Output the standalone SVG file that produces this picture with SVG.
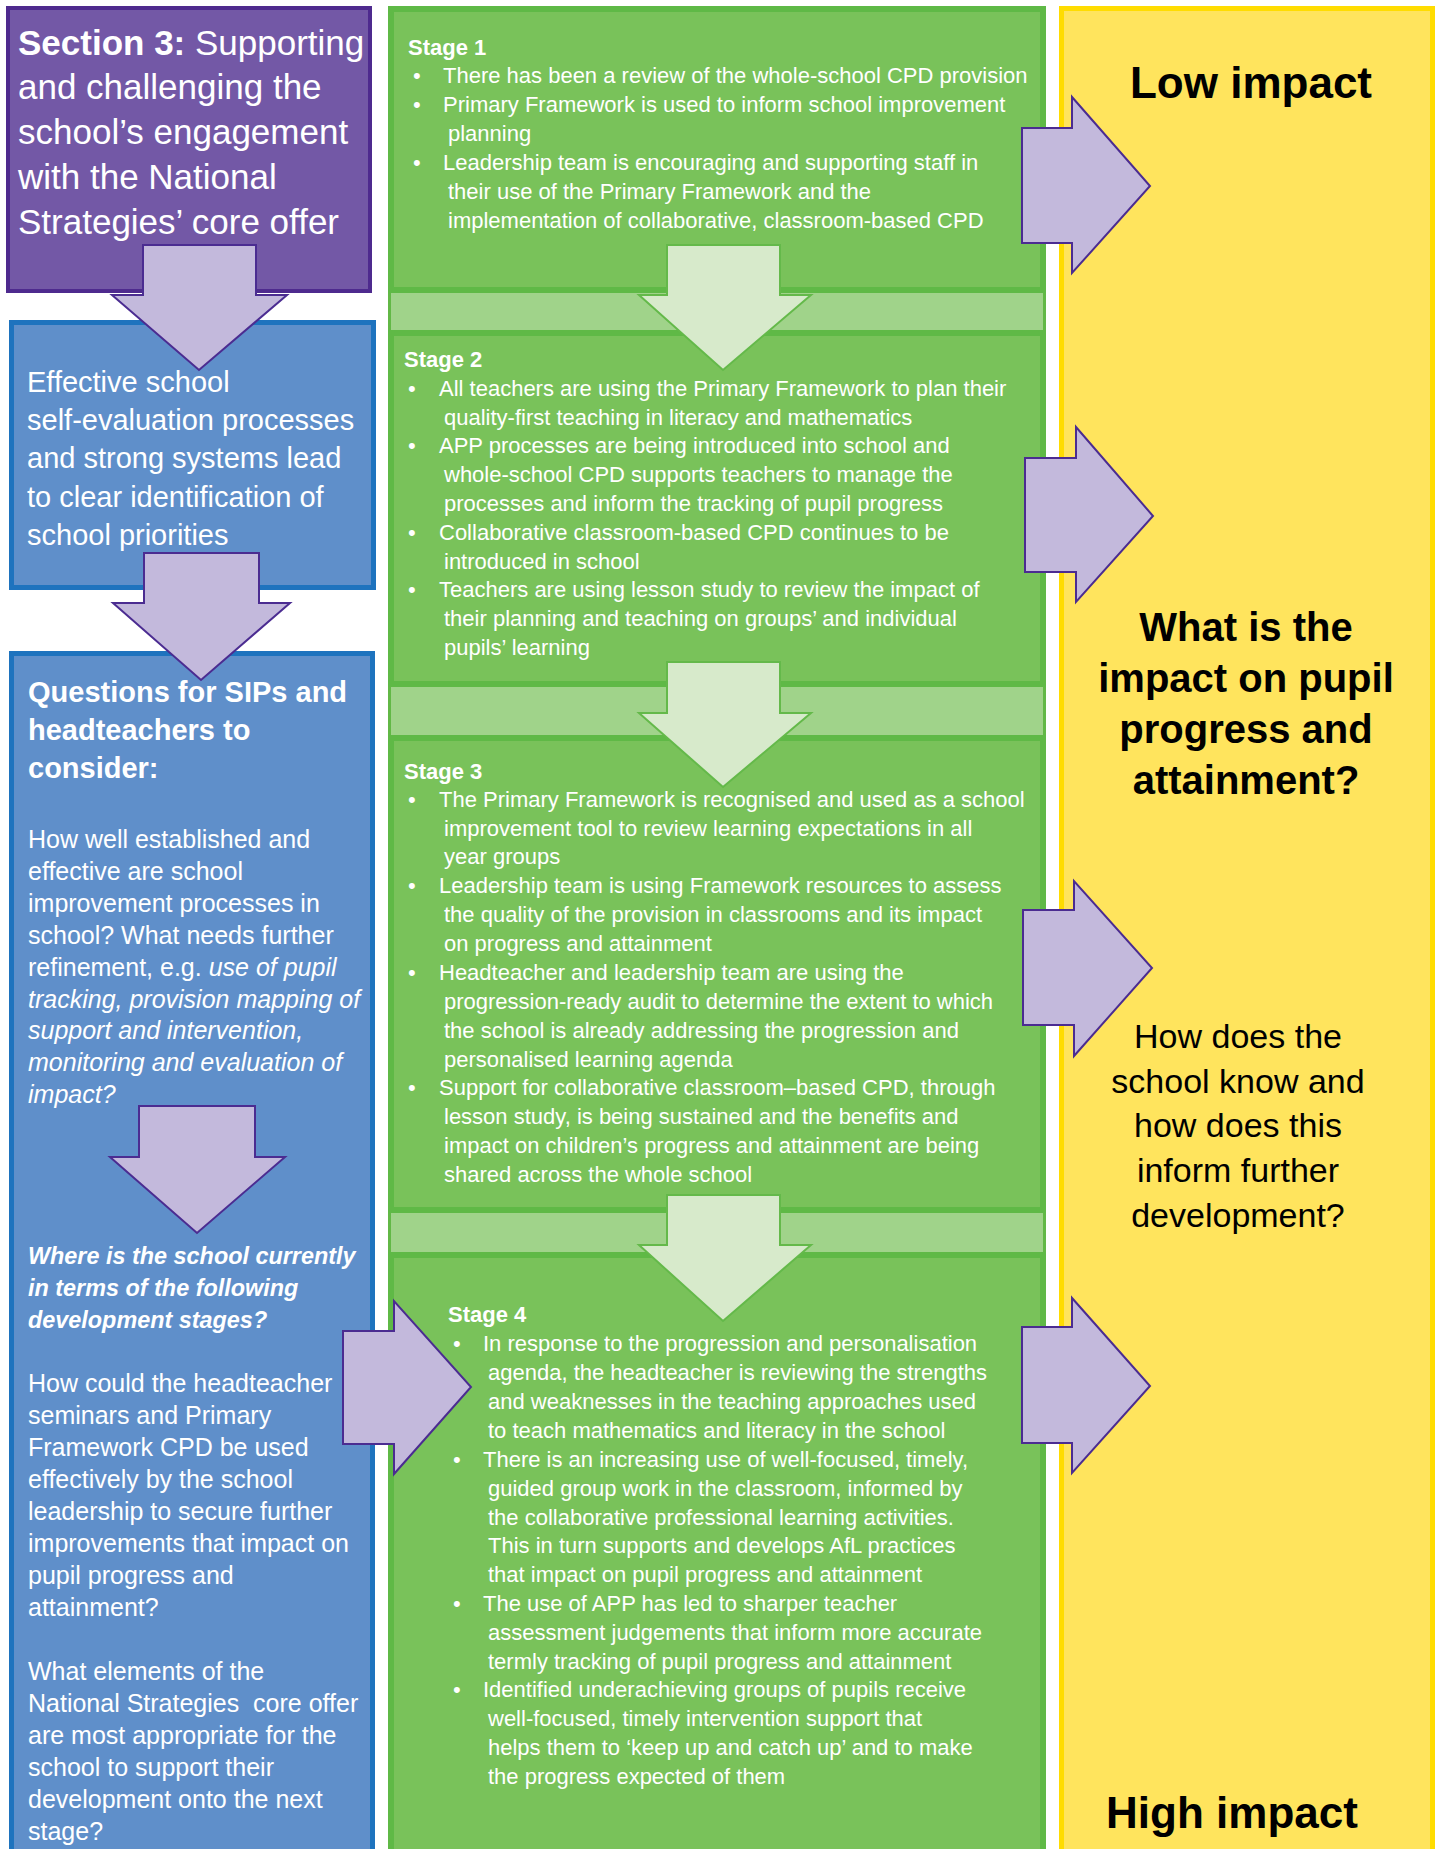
<svg xmlns="http://www.w3.org/2000/svg" width="1438" height="1849" viewBox="0 0 1438 1849">
  <style>
    text { font-family: "Liberation Sans", Arial, sans-serif; }
    .w { fill: #ffffff; }
    .k { fill: #000000; }
    .b { font-weight: bold; }
    .i { font-style: italic; }
    .h1 { font-size: 35px; }
    .h2 { font-size: 29px; }
    .q { font-size: 25px; }
    .qi { font-size: 23.4px; font-weight: bold; font-style: italic; }
    .st { font-size: 22px; }
    .stage { fill: #79c25a; stroke: #5fb946; stroke-width: 6; }
    .purple-arrow { fill: #c3b9dc; stroke: #4b2c91; stroke-width: 2; stroke-linejoin: miter; }
    .green-arrow { fill: #d7eacb; stroke: #64b94a; stroke-width: 2; }
    .big { font-size: 44px; font-weight: bold; text-anchor: middle; }
    .mid { font-size: 40px; font-weight: bold; text-anchor: middle; }
    .ask { font-size: 34px; text-anchor: middle; }
  </style>
  <rect width="1438" height="1849" fill="#ffffff"/>

  <!-- left column: section heading -->
  <g id="section-box">
    <rect x="8" y="8" width="362" height="283" fill="#7358a6" stroke="#4e2a8e" stroke-width="4"/>
    <text class="w h1" x="18" y="55"><tspan class="b">Section 3:</tspan> Supporting</text>
    <text class="w h1" x="18" y="99">and challenging the</text>
    <text class="w h1" x="18" y="144">school’s engagement</text>
    <text class="w h1" x="18" y="189">with the National</text>
    <text class="w h1" x="18" y="234">Strategies’ core offer</text>
  </g>

  <g id="self-evaluation">
    <rect x="11.5" y="322.5" width="362" height="265" fill="#5f8fca" stroke="#1e73be" stroke-width="5"/>
    <text class="w h2" x="27" y="392">Effective school</text>
    <text class="w h2" x="27" y="430">self-evaluation processes</text>
    <text class="w h2" x="27" y="468">and strong systems lead</text>
    <text class="w h2" x="27" y="507">to clear identification of</text>
    <text class="w h2" x="27" y="545">school priorities</text>
  </g>

  <g id="questions">
    <rect x="11.5" y="653.5" width="361" height="1215" fill="#5f8fca" stroke="#1e73be" stroke-width="5"/>
    <text class="w h2 b" x="28" y="702">Questions for SIPs and</text>
    <text class="w h2 b" x="28" y="740">headteachers to</text>
    <text class="w h2 b" x="28" y="778">consider:</text>
    <text class="w q" x="28" y="848">How well established and</text>
    <text class="w q" x="28" y="880">effective are school</text>
    <text class="w q" x="28" y="912">improvement processes in</text>
    <text class="w q" x="28" y="944">school? What needs further</text>
    <text class="w q" x="28" y="976">refinement, e.g. <tspan class="i">use of pupil</tspan></text>
    <text class="w q i" x="28" y="1008">tracking, provision mapping of</text>
    <text class="w q i" x="28" y="1039">support and intervention,</text>
    <text class="w q i" x="28" y="1071">monitoring and evaluation of</text>
    <text class="w q i" x="28" y="1103">impact?</text>
    <text class="w qi" x="28" y="1264">Where is the school currently</text>
    <text class="w qi" x="28" y="1296">in terms of the following</text>
    <text class="w qi" x="28" y="1328">development stages?</text>
    <text class="w q" x="28" y="1392">How could the headteacher</text>
    <text class="w q" x="28" y="1424">seminars and Primary</text>
    <text class="w q" x="28" y="1456">Framework CPD be used</text>
    <text class="w q" x="28" y="1488">effectively by the school</text>
    <text class="w q" x="28" y="1520">leadership to secure further</text>
    <text class="w q" x="28" y="1552">improvements that impact on</text>
    <text class="w q" x="28" y="1584">pupil progress and</text>
    <text class="w q" x="28" y="1616">attainment?</text>
    <text class="w q" x="28" y="1680">What elements of the</text>
    <text class="w q" x="28" y="1712">National Strategies&#160; core offer</text>
    <text class="w q" x="28" y="1744">are most appropriate for the</text>
    <text class="w q" x="28" y="1776">school to support their</text>
    <text class="w q" x="28" y="1808">development onto the next</text>
    <text class="w q" x="28" y="1840">stage?</text>
  </g>

  <!-- middle column: development stages -->
  <rect x="389.5" y="7.5" width="655" height="1860" fill="#a0d38a" stroke="#62b846" stroke-width="3"/>

  <g id="stage-1">
    <rect class="stage" x="391" y="9" width="652" height="281"/>
    <text class="w st b" x="408" y="55">Stage 1</text>
    <g class="w st">
      <text x="413" y="83">•</text><text x="443" y="83">There has been a review of the whole-school CPD provision</text>
      <text x="413" y="112">•</text><text x="443" y="112">Primary Framework is used to inform school improvement</text>
      <text x="448" y="141">planning</text>
      <text x="413" y="170">•</text><text x="443" y="170">Leadership team is encouraging and supporting staff in</text>
      <text x="448" y="199">their use of the Primary Framework and the</text>
      <text x="448" y="228">implementation of collaborative, classroom-based CPD</text>
    </g>
  </g>

  <g id="stage-2">
    <rect class="stage" x="391" y="333" width="652" height="351"/>
    <text class="w st b" x="404" y="367">Stage 2</text>
    <g class="w st">
      <text x="408" y="396">•</text><text x="439" y="396">All teachers are using the Primary Framework to plan their</text>
      <text x="444" y="425">quality-first teaching in literacy and mathematics</text>
      <text x="408" y="453">•</text><text x="439" y="453">APP processes are being introduced into school and</text>
      <text x="444" y="482">whole-school CPD supports teachers to manage the</text>
      <text x="444" y="511">processes and inform the tracking of pupil progress</text>
      <text x="408" y="540">•</text><text x="439" y="540">Collaborative classroom-based CPD continues to be</text>
      <text x="444" y="569">introduced in school</text>
      <text x="408" y="597">•</text><text x="439" y="597">Teachers are using lesson study to review the impact of</text>
      <text x="444" y="626">their planning and teaching on groups’ and individual</text>
      <text x="444" y="655">pupils’ learning</text>
    </g>
  </g>

  <g id="stage-3">
    <rect class="stage" x="391" y="738" width="652" height="472"/>
    <text class="w st b" x="404" y="779">Stage 3</text>
    <g class="w st">
      <text x="408" y="807">•</text><text x="439" y="807">The Primary Framework is recognised and used as a school</text>
      <text x="444" y="836">improvement tool to review learning expectations in all</text>
      <text x="444" y="864">year groups</text>
      <text x="408" y="893">•</text><text x="439" y="893">Leadership team is using Framework resources to assess</text>
      <text x="444" y="922">the quality of the provision in classrooms and its impact</text>
      <text x="444" y="951">on progress and attainment</text>
      <text x="408" y="980">•</text><text x="439" y="980">Headteacher and leadership team are using the</text>
      <text x="444" y="1009">progression-ready audit to determine the extent to which</text>
      <text x="444" y="1038">the school is already addressing the progression and</text>
      <text x="444" y="1067">personalised learning agenda</text>
      <text x="408" y="1095">•</text><text x="439" y="1095">Support for collaborative classroom–based CPD, through</text>
      <text x="444" y="1124">lesson study, is being sustained and the benefits and</text>
      <text x="444" y="1153">impact on children’s progress and attainment are being</text>
      <text x="444" y="1182">shared across the whole school</text>
    </g>
  </g>

  <g id="stage-4">
    <rect class="stage" x="391" y="1255" width="652" height="620"/>
    <text class="w st b" x="448" y="1322">Stage 4</text>
    <g class="w st">
      <text x="453" y="1351">•</text><text x="483" y="1351">In response to the progression and personalisation</text>
      <text x="488" y="1380">agenda, the headteacher is reviewing the strengths</text>
      <text x="488" y="1409">and weaknesses in the teaching approaches used</text>
      <text x="488" y="1438">to teach mathematics and literacy in the school</text>
      <text x="453" y="1467">•</text><text x="483" y="1467">There is an increasing use of well-focused, timely,</text>
      <text x="488" y="1496">guided group work in the classroom, informed by</text>
      <text x="488" y="1525">the collaborative professional learning activities.</text>
      <text x="488" y="1553">This in turn supports and develops AfL practices</text>
      <text x="488" y="1582">that impact on pupil progress and attainment</text>
      <text x="453" y="1611">•</text><text x="483" y="1611">The use of APP has led to sharper teacher</text>
      <text x="488" y="1640">assessment judgements that inform more accurate</text>
      <text x="488" y="1669">termly tracking of pupil progress and attainment</text>
      <text x="453" y="1697">•</text><text x="483" y="1697">Identified underachieving groups of pupils receive</text>
      <text x="488" y="1726">well-focused, timely intervention support that</text>
      <text x="488" y="1755">helps them to ‘keep up and catch up’ and to make</text>
      <text x="488" y="1784">the progress expected of them</text>
    </g>
  </g>

  <!-- right column: impact scale -->
  <g id="impact">
    <rect x="1061.5" y="8.5" width="371" height="1860" fill="#ffe45d" stroke="#ffdc00" stroke-width="5"/>
    <text class="k big" x="1251" y="98">Low impact</text>
    <text class="k mid" x="1246" y="641">What is the</text>
    <text class="k mid" x="1246" y="692">impact on pupil</text>
    <text class="k mid" x="1246" y="743">progress and</text>
    <text class="k mid" x="1246" y="794">attainment?</text>
    <text class="k ask" x="1238" y="1048">How does the</text>
    <text class="k ask" x="1238" y="1093">school know and</text>
    <text class="k ask" x="1238" y="1137">how does this</text>
    <text class="k ask" x="1238" y="1182">inform further</text>
    <text class="k ask" x="1238" y="1227">development?</text>
    <text class="k big" x="1232" y="1828">High impact</text>
  </g>

  <!-- block arrows -->
  <g id="connectors">
    <path class="purple-arrow" d="M143,245 L256,245 L256,295 L287,295 L199,370 L112,295 L143,295 Z"/>
    <path class="purple-arrow" d="M144,553 L259,553 L259,603 L290,603 L201,680 L113,603 L144,603 Z"/>
    <path class="purple-arrow" d="M139,1106 L255,1106 L255,1157 L285,1157 L197,1233 L110,1157 L139,1157 Z"/>
    <path class="purple-arrow" d="M343,1331 L394,1331 L394,1301 L471,1387 L394,1474 L394,1444 L343,1444 Z"/>
    <path class="green-arrow" d="M667,245 L780,245 L780,295 L811,295 L723,370 L639,295 L667,295 Z"/>
    <path class="green-arrow" d="M667,662 L780,662 L780,713 L811,713 L723,787 L639,713 L667,713 Z"/>
    <path class="green-arrow" d="M667,1195 L780,1195 L780,1245 L811,1245 L723,1321 L639,1245 L667,1245 Z"/>
    <path class="purple-arrow" d="M1022,128 L1072,128 L1072,97 L1150,186 L1072,273 L1072,243 L1022,243 Z"/>
    <path class="purple-arrow" d="M1025,458 L1076,458 L1076,427 L1153,516 L1076,602 L1076,572 L1025,572 Z"/>
    <path class="purple-arrow" d="M1023,910 L1074,910 L1074,881 L1152,968 L1074,1056 L1074,1025 L1023,1025 Z"/>
    <path class="purple-arrow" d="M1022,1327 L1072,1327 L1072,1298 L1150,1386 L1072,1473 L1072,1443 L1022,1443 Z"/>
  </g>
</svg>
